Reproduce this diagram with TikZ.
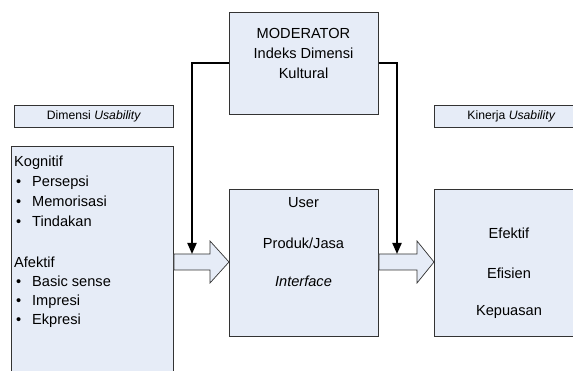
\documentclass[tikz,border=0pt]{standalone}
\usepackage{fontspec}
\setmainfont{Liberation Sans}
\usetikzlibrary{arrows.meta}
\definecolor{boxfill}{HTML}{E6ECF7}
\definecolor{boxline}{HTML}{333333}
\begin{document}
\begin{tikzpicture}[x=1pt,y=-1pt,
  box/.style={draw=boxline, fill=boxfill, line width=0.9pt, inner sep=0pt, anchor=north west},
  txt/.style={font=\fontsize{14.6}{20}\selectfont, inner sep=0pt},
  lab/.style={font=\fontsize{12.2}{14}\selectfont},
  conn/.style={line width=2pt, -{Triangle[length=11pt,width=9pt]}},
  barrow/.style={draw=boxline, fill=boxfill, line width=0.7pt, line join=miter}]
\path[use as bounding box, clip] (0,0) rectangle (573,371);
\fill[white] (0,0) rectangle (573,371);
% boxes
\node[box, minimum width=159pt, minimum height=22pt] (dimlab) at (14,105) {};
\node[lab] (dimtxt) at (dimlab.center) {Dimensi \textit{Usability}};
\node[box, minimum width=154pt, minimum height=22pt] (kinlab) at (434,105) {};
\node[lab] (kintxt) at (kinlab.center) {Kinerja \textit{Usability}};
\node[box, minimum width=162pt, minimum height=250pt] (left) at (11,146) {};
\node[box, minimum width=149pt, minimum height=102pt] (mod) at (229,12) {};
\node[box, minimum width=149pt, minimum height=147pt] (mid) at (229,189) {};
\node[box, minimum width=150pt, minimum height=147pt] (right) at (434,189) {};
% left box text
\node[txt, anchor=base west] (k1) at (14,167) {Kognitif};
\node[txt, anchor=base west] (k2) at (15,187) {\makebox[17pt][l]{\hspace{1pt}•}Persepsi};
\node[txt, anchor=base west] (k3) at (15,207) {\makebox[17pt][l]{\hspace{1pt}•}Memorisasi};
\node[txt, anchor=base west] (k4) at (15,227) {\makebox[17pt][l]{\hspace{1pt}•}Tindakan};
\node[txt, anchor=base west] (k5) at (14,268) {Afektif};
\node[txt, anchor=base west] (k6) at (15,287) {\makebox[17pt][l]{\hspace{1pt}•}Basic sense};
\node[txt, anchor=base west] (k7) at (15,306) {\makebox[17pt][l]{\hspace{1pt}•}Impresi};
\node[txt, anchor=base west] (k8) at (15,325) {\makebox[17pt][l]{\hspace{1pt}•}Ekpresi};
% moderator text
\node[txt, align=center] (modtxt) at (303.5,53) {MODERATOR\\Indeks Dimensi\\Kultural};
% middle text
\node[txt] (m1) at (303.5,203) {User};
\node[txt] (m2) at (303.5,243) {Produk/Jasa};
\node[txt] (m3) at (303.5,281) {\textit{Interface}};
% right text
\node[txt] (r1) at (509,233) {Efektif};
\node[txt] (r2) at (509,273) {Efisien};
\node[txt] (r3) at (509,312) {Kepuasan};
% block arrows
\draw[barrow] (left.east |- 0,254) -- (210,254) -- (210,241) -- (mid.west |- 0,262) -- (210,283) -- (210,270) -- (left.east |- 0,270) -- cycle;
\draw[barrow] (mid.east |- 0,254) -- (417,254) -- (417,241) -- (right.west |- 0,262) -- (417,283) -- (417,270) -- (mid.east |- 0,270) -- cycle;
% connectors
\coordinate (ta) at (192,254);
\coordinate (tb) at (397,254);
\draw[conn] (mod.west) -| (ta);
\draw[conn] (mod.east) -| (tb);
\end{tikzpicture}
\end{document}
